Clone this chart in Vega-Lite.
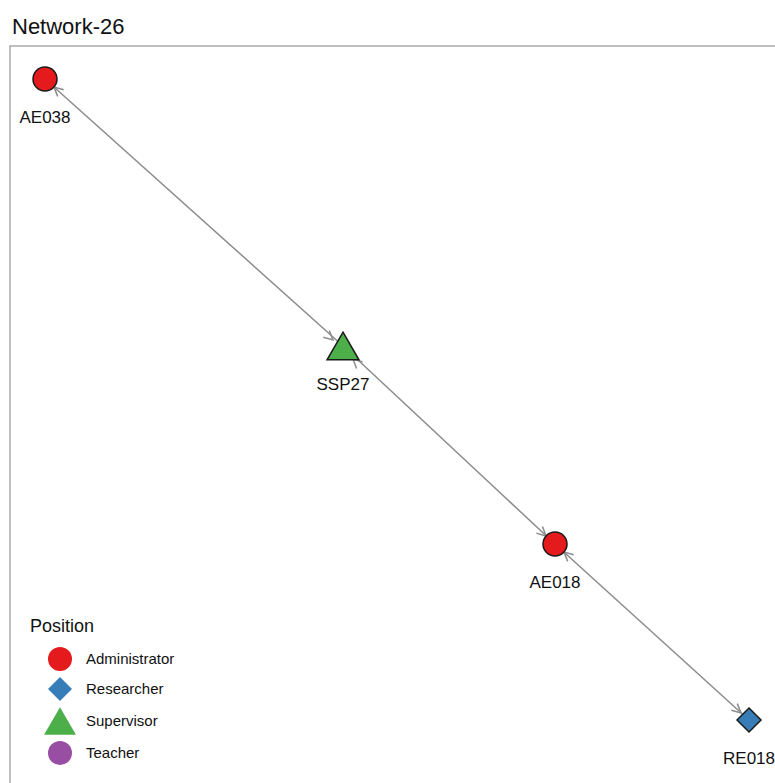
{
  "$schema": "https://vega.github.io/schema/vega-lite/v6.json",
  "width": 780,
  "height": 750,
  "autosize": {"type": "none"},
  "padding": {"left": 10, "top": 46, "right": 0, "bottom": 0},
  "background": "white",
  "title": {"text": "Network-26", "anchor": "start", "fontSize": 22, "font": "Liberation Sans", "fontWeight": "normal", "color": "#111111", "offset": 8, "baseline": "bottom", "dx": 2, "dy": 23},
  "config": {
    "view": {"stroke": "#aaaaaa", "strokeWidth": 1.5},
    "font": "Liberation Sans",
    "legend": {"titleFontSize": 18, "titleFontWeight": "normal", "titleColor": "#111111", "labelFontSize": 15, "labelColor": "#111111", "symbolStrokeColor": "#1a1a1a", "symbolStrokeWidth": 1.5, "symbolOffset": 17, "labelOffset": 13, "rowPadding": 0, "padding": 0, "titlePadding": 10, "symbolOpacity": 1, "symbolSize": 576}
  },
  "datasets": {
    "nodes": [
      {"id": "AE038", "position": "Administrator", "x": 45, "y": 79},
      {"id": "SSP27", "position": "Supervisor", "x": 343, "y": 346},
      {"id": "AE018", "position": "Administrator", "x": 555, "y": 544},
      {"id": "RE018", "position": "Researcher", "x": 749, "y": 720}
    ],
    "edges": [
      {"from": "AE038", "to": "SSP27", "x1": 45, "y1": 79, "x2": 343, "y2": 346},
      {"from": "SSP27", "to": "AE018", "x1": 343, "y1": 346, "x2": 555, "y2": 544},
      {"from": "AE018", "to": "RE018", "x1": 555, "y1": 544, "x2": 749, "y2": 720}
    ],
    "arrows": [
      {"edge": "AE038-SSP27", "at": "AE038", "x": 54, "y": 87, "angle": 222},
      {"edge": "AE038-SSP27", "at": "SSP27", "x": 333, "y": 340, "angle": 42},
      {"edge": "SSP27-AE018", "at": "SSP27", "x": 353, "y": 359, "angle": 223},
      {"edge": "SSP27-AE018", "at": "AE018", "x": 546, "y": 536, "angle": 43},
      {"edge": "AE018-RE018", "at": "AE018", "x": 564, "y": 552, "angle": 222},
      {"edge": "AE018-RE018", "at": "RE018", "x": 741, "y": 713, "angle": 42}
    ]
  },
  "layer": [
    {
      "data": {"name": "edges"},
      "mark": {"type": "rule", "color": "#8c8c8c", "strokeWidth": 1.5},
      "encoding": {
        "x": {"field": "x1", "type": "quantitative", "scale": {"domain": [10, 790], "nice": false, "zero": false}, "axis": null},
        "y": {"field": "y1", "type": "quantitative", "scale": {"domain": [46, 796], "nice": false, "zero": false, "reverse": true}, "axis": null},
        "x2": {"field": "x2"},
        "y2": {"field": "y2"}
      }
    },
    {
      "data": {"name": "arrows"},
      "mark": {"type": "point", "shape": "M -1 -0.5 L 0 0 L -1 0.5", "filled": false, "stroke": "#8c8c8c", "strokeWidth": 1.5, "size": 324, "opacity": 1},
      "encoding": {
        "x": {"field": "x", "type": "quantitative"},
        "y": {"field": "y", "type": "quantitative"},
        "angle": {"field": "angle", "type": "quantitative", "scale": null}
      }
    },
    {
      "data": {"name": "nodes"},
      "mark": {"type": "point", "filled": true, "stroke": "#1a1a1a", "strokeWidth": 1.5, "opacity": 1, "size": 576},
      "encoding": {
        "x": {"field": "x", "type": "quantitative"},
        "y": {"field": "y", "type": "quantitative"},
        "fill": {"field": "position", "type": "nominal", "title": "Position",
          "scale": {"domain": ["Administrator", "Researcher", "Supervisor", "Teacher"], "range": ["#E41A1C", "#377EB8", "#4DAF4A", "#984EA3"]},
          "legend": {"orient": "none", "legendX": 20, "legendY": 572}},
        "shape": {"field": "position", "type": "nominal", "title": "Position",
          "scale": {"domain": ["Administrator", "Researcher", "Supervisor", "Teacher"], "range": ["circle", "diamond", "M 0 -1.15 L 1.33 1.15 L -1.33 1.15 Z", "circle"]},
          "legend": {"orient": "none", "legendX": 20, "legendY": 572}}
      }
    },
    {
      "data": {"name": "nodes"},
      "mark": {"type": "text", "fontSize": 17, "color": "#111111", "baseline": "alphabetic", "align": "center", "dy": 44},
      "encoding": {
        "x": {"field": "x", "type": "quantitative"},
        "y": {"field": "y", "type": "quantitative"},
        "text": {"field": "id", "type": "nominal"}
      }
    }
  ]
}
